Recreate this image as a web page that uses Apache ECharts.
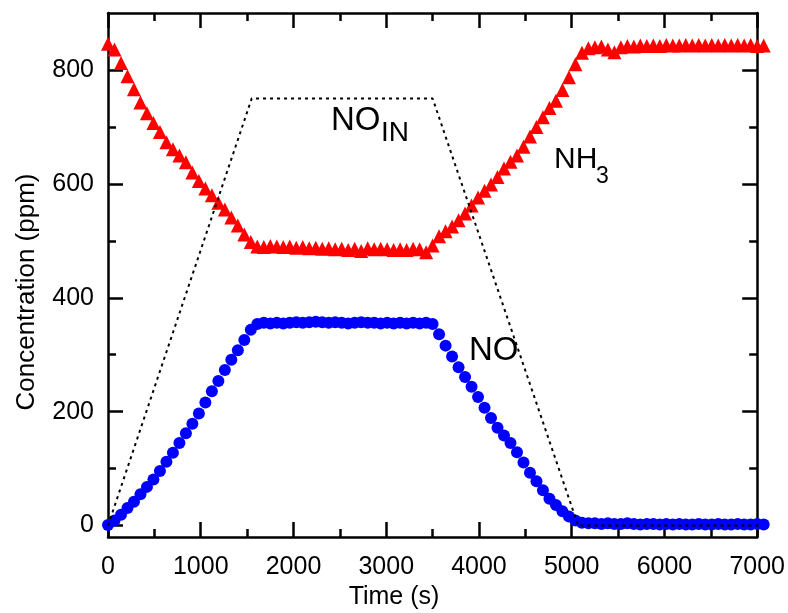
<!DOCTYPE html>
<html>
<head>
<meta charset="utf-8">
<script src="https://cdn.jsdelivr.net/npm/echarts@6/dist/echarts.min.js"></script>
<style>
  html, body { margin: 0; padding: 0; background: #ffffff; }
  #chart { width: 788px; height: 613px; }
</style>
</head>
<body>
<div id="chart"></div>
<script>
// Sampling times (s) shared by both measured series
const times = [
  0, 70, 140, 210, 280, 350, 420, 490, 560, 630,
  700, 770, 840, 910, 980, 1050, 1120, 1190, 1260, 1330,
  1400, 1470, 1540, 1610, 1680, 1750, 1820, 1890, 1960, 2030,
  2100, 2170, 2240, 2310, 2380, 2450, 2520, 2590, 2660, 2730,
  2800, 2870, 2940, 3010, 3080, 3150, 3220, 3290, 3360, 3430,
  3500, 3570, 3640, 3710, 3780, 3850, 3920, 3990, 4060, 4130,
  4200, 4270, 4340, 4410, 4480, 4550, 4620, 4690, 4760, 4830,
  4900, 4970, 5040, 5110, 5180, 5250, 5320, 5390, 5460, 5530,
  5600, 5670, 5740, 5810, 5880, 5950, 6020, 6090, 6160, 6230,
  6300, 6370, 6440, 6510, 6580, 6650, 6720, 6790, 6860, 6930,
  7000, 7070
];

// Outlet NO concentration (ppm)
const noOut = [
  1, 9, 19, 31, 42, 55, 68, 81, 96, 112,
  128, 145, 162, 179, 197, 216, 236, 254, 273, 291,
  308, 326, 344, 354, 356, 355, 356, 355, 356, 357,
  356, 357, 358, 357, 356, 357, 356, 355, 356, 357,
  356, 356, 355, 356, 355, 356, 355, 356, 355, 356,
  354, 336, 316, 297, 278, 261, 244, 226, 207, 189,
  172, 158, 145, 129, 111, 93, 78, 62, 47, 36,
  25, 16, 9, 5, 4, 4, 3, 4, 3, 3,
  4, 3, 2, 3, 3, 2, 3, 2, 3, 2,
  2, 3, 2, 2, 3, 2, 2, 3, 2, 2,
  3, 2
];

// Outlet NH3 concentration (ppm)
const nh3Out = [
  846, 836, 812, 789, 766, 743, 724, 707, 691, 673,
  661, 650, 638, 620, 605, 592, 580, 567, 555, 541,
  527, 511, 498, 490, 489, 491, 490, 489, 490, 488,
  489, 487, 488, 486, 487, 485, 486, 484, 486, 482,
  487, 485, 486, 485, 484, 485, 484, 486, 485, 480,
  492, 508, 517, 525, 536, 548, 562, 576, 588, 599,
  612, 627, 639, 650, 665, 683, 700, 717, 733, 746,
  765, 787, 810, 830, 838, 840, 841, 836, 831, 840,
  842, 841, 843, 842, 843, 842, 844, 843, 843, 844,
  843, 844, 843, 844, 843, 844, 843, 844, 843, 844,
  842, 843
];

// Inlet NO ramp profile
const noInTimes = [0, 1550, 3500, 5070, 7060];
const noInValues = [0, 750, 750, 0, 0];

// Axis ticks
const xTickInterval = 1000;
const yMajorTicks = [0, 200, 400, 600, 800];
const yMinorTicks = [100, 300, 500, 700];

const FONT = '"Liberation Sans", Arial, Helvetica, sans-serif';
const AXIS_W = 2.5;

function pairs(xs, ys) {
  return xs.map((x, i) => [x, ys[i]]);
}

const chart = echarts.init(document.getElementById('chart'), null, { renderer: 'canvas' });

const xBase = {
  type: 'value', min: 0, max: 7000, interval: xTickInterval,
  splitLine: { show: false },
  axisLine: { show: true, onZero: false, lineStyle: { color: '#000', width: AXIS_W } },
  axisTick: { show: true, inside: true, length: 15, lineStyle: { color: '#000', width: AXIS_W } },
  minorTick: { show: true, splitNumber: 2, length: 8, lineStyle: { color: '#000', width: AXIS_W } }
};

function yAxisDef(position, ticks, len, showLine, showLabel) {
  return {
    type: 'value', min: -20, max: 900, position: position,
    splitLine: { show: false },
    axisLine: { show: showLine, onZero: false, lineStyle: { color: '#000', width: AXIS_W } },
    axisTick: { show: true, inside: true, length: len, customValues: ticks,
      lineStyle: { color: '#000', width: AXIS_W } },
    axisLabel: showLabel ? {
      show: true, customValues: ticks, margin: 14,
      color: '#000', fontSize: 25, fontFamily: FONT,
      formatter: (v) => String(v)
    } : { show: false }
  };
}

const option = {
  animation: false,
  backgroundColor: '#ffffff',
  grid: { left: 108, right: 30, top: 13, bottom: 76, containLabel: false },
  xAxis: [
    Object.assign({}, xBase, {
      position: 'bottom',
      axisLabel: { show: true, margin: 18, color: '#000', fontSize: 25, fontFamily: FONT,
        showMinLabel: true, showMaxLabel: true, formatter: (v) => String(v) }
    }),
    Object.assign({}, xBase, { position: 'top', axisLabel: { show: false } })
  ],
  yAxis: [
    yAxisDef('left', yMajorTicks, 15, true, true),
    yAxisDef('left', yMinorTicks, 8, false, false),
    yAxisDef('right', yMajorTicks, 15, true, false),
    yAxisDef('right', yMinorTicks, 8, false, false)
  ],
  series: [
    {
      name: 'NH3', type: 'scatter', xAxisIndex: 0, yAxisIndex: 0, clip: false,
      symbol: 'triangle', symbolSize: 14,
      itemStyle: { color: '#ff0000', opacity: 1 },
      data: pairs(times, nh3Out), z: 3
    },
    {
      name: 'NO', type: 'scatter', xAxisIndex: 0, yAxisIndex: 0, clip: false,
      symbol: 'circle', symbolSize: 12,
      itemStyle: { color: '#0000ff', opacity: 1 },
      data: pairs(times, noOut), z: 3
    },
    {
      name: 'NO_IN', type: 'line', xAxisIndex: 0, yAxisIndex: 0, clip: false,
      showSymbol: false, symbol: 'none',
      lineStyle: { color: '#000', width: 2, type: [3, 4] },
      data: pairs(noInTimes, noInValues), z: 4
    }
  ],
  graphic: [
    { type: 'text', left: 'center', x: 0, top: 585,
      style: { text: 'Time (s)', fontSize: 25, fontFamily: FONT, fill: '#000' } },
    { type: 'text', x: 27, y: 292, rotation: Math.PI / 2,
      style: { text: 'Concentration (ppm)', fontSize: 26, fontFamily: FONT, fill: '#000',
        align: 'center', verticalAlign: 'middle' } },
    { type: 'text', x: 331, y: 121,
      style: { text: 'NO', fontSize: 33, fontFamily: FONT, fill: '#000', verticalAlign: 'middle' } },
    { type: 'text', x: 381, y: 133,
      style: { text: 'IN', fontSize: 28, fontFamily: FONT, fill: '#000', verticalAlign: 'middle' } },
    { type: 'text', x: 469, y: 351,
      style: { text: 'NO', fontSize: 33, fontFamily: FONT, fill: '#000', verticalAlign: 'middle' } },
    { type: 'text', x: 554, y: 160,
      style: { text: 'NH', fontSize: 30, fontFamily: FONT, fill: '#000', verticalAlign: 'middle' } },
    { type: 'text', x: 596, y: 177,
      style: { text: '3', fontSize: 23, fontFamily: FONT, fill: '#000', verticalAlign: 'middle' } }
  ]
};

chart.setOption(option);
</script>
</body>
</html>
